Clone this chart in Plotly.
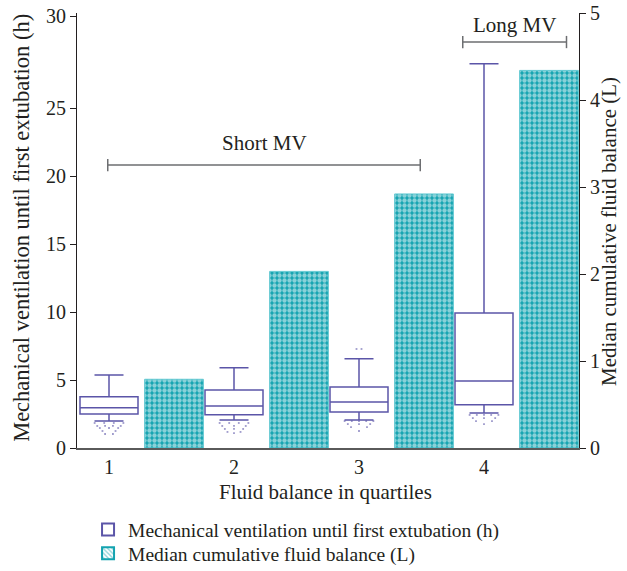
import numpy as np
import plotly.graph_objects as go

# ---------------- data ----------------
quartiles = [1, 2, 3, 4]
quartile_labels = ["1", "2", "3", "4"]

mv_lowerfence = [1.99, 2.06, 2.06, 2.57]
mv_q1 = [2.50, 2.45, 2.65, 3.18]
mv_median = [2.96, 3.09, 3.38, 4.93]
mv_q3 = [3.77, 4.26, 4.49, 9.93]
mv_upperfence = [5.37, 5.90, 6.57, 27.4]

mv_outliers_low = [
    [1.84, 1.84, 1.84, 1.84, 1.62, 1.62, 1.62, 1.62, 1.47, 1.47, 1.47, 1.25, 1.25, 1.03, 1.03],
    [1.84, 1.84, 1.84, 1.84, 1.62, 1.62, 1.62, 1.40, 1.40, 1.40, 1.18, 1.18, 1.10],
    [1.98, 1.98, 1.98, 1.98, 1.98, 1.76, 1.76, 1.76, 1.54, 1.54, 1.25],
    [2.43, 2.43, 2.43, 2.43, 2.43, 2.20, 2.20, 2.20, 1.98, 1.98, 1.76],
]
mv_outliers_high = [[], [], [7.28, 7.28], []]

fluid_balance = [0.79, 2.03, 2.92, 4.34]

left_ticks = [0, 5, 10, 15, 20, 25, 30]
right_ticks = [0, 1, 2, 3, 4, 5]

short_mv_span = [0.99, 3.49]
long_mv_span = [3.83, 4.66]

# ---------------- styling ----------------
PURPLE = "#5b55a8"
TEAL = "#13a3b0"
TEAL_EDGE = "#62c9d2"
GRAY = "#6d6e71"
TXT = "#231f20"
FONT = "Liberation Serif"

BREAK = 25.0
STRETCH = 92.0 / 68.0   # upper segment of the left axis (25-30) is drawn expanded


def disp(v):
    return v if v <= BREAK else BREAK + (v - BREAK) * STRETCH


BOX_W = 0.464
BAR_W = 0.47
BAR_SHIFT = 0.52

fig = go.Figure()

fig.add_trace(go.Box(
    x=quartiles,
    q1=[disp(v) for v in mv_q1],
    median=[disp(v) for v in mv_median],
    q3=[disp(v) for v in mv_q3],
    lowerfence=[disp(v) for v in mv_lowerfence],
    upperfence=[disp(v) for v in mv_upperfence],
    width=BOX_W,
    whiskerwidth=0.5,
    boxpoints=False,
    fillcolor="white",
    line=dict(color=PURPLE, width=1.5),
    name="Mechanical ventilation until first extubation (h)",
    legend="legend",
    hoverinfo="skip",
))

# outlier dots (spread under the whisker caps)
ox, oy = [], []
for q, vals, lw in zip(quartiles, mv_outliers_low, mv_lowerfence):
    rows = sorted(set(vals), reverse=True)
    nrows = len(rows)
    for r, v in enumerate(rows):
        n = vals.count(v)
        hw = 0.115 * (1 - r / (nrows + 0.5))
        offs = [0.0] if n == 1 else list(np.linspace(-hw, hw, n))
        for o in offs:
            ox.append(q + o)
            oy.append(disp(v))
for q, vals in zip(quartiles, mv_outliers_high):
    n = len(vals)
    offs = [0.0] if n == 1 else list(np.linspace(-0.02, 0.02, n)) if n else []
    for o, v in zip(offs, vals):
        ox.append(q + o)
        oy.append(disp(v))

fig.add_trace(go.Scatter(
    x=ox, y=oy, mode="markers",
    marker=dict(symbol="square", size=1.8, color="rgba(91,85,168,0.6)"),
    showlegend=False, hoverinfo="skip",
))

fig.add_trace(go.Bar(
    x=[q + BAR_SHIFT for q in quartiles],
    y=fluid_balance,
    width=BAR_W,
    yaxis="y2",
    marker=dict(
        color=TEAL,
        line=dict(color=TEAL_EDGE, width=1),
        pattern=dict(shape=".", fgcolor="white", bgcolor=TEAL, size=5, solidity=0.6),
    ),
    showlegend=False,
    hoverinfo="skip",
))

# legend entry for the bars (hatched swatch as in the reference)
fig.add_trace(go.Bar(
    x=[None], y=[None], yaxis="y2",
    name="Median cumulative fluid balance (L)",
    legend="legend2",
    marker=dict(
        color="white",
        line=dict(color=TEAL, width=1),
        pattern=dict(shape="\\", fgcolor=TEAL, bgcolor="white", size=4, solidity=0.4),
    ),
))

# brackets
def bracket(x0, x1, y, h=0.45):
    fig.add_shape(type="line", x0=x0, x1=x1, y0=y, y1=y, xref="x", yref="y",
                  line=dict(color=GRAY, width=1.5))
    for xx in (x0, x1):
        fig.add_shape(type="line", x0=xx, x1=xx, y0=y - h, y1=y + h, xref="x", yref="y",
                      line=dict(color=GRAY, width=1.5))


bracket(short_mv_span[0], short_mv_span[1], 20.8)
bracket(long_mv_span[0], long_mv_span[1], 29.85)

fig.add_annotation(x=sum(short_mv_span) / 2, y=22.4, xref="x", yref="y", text="Short MV",
                   showarrow=False, font=dict(family=FONT, size=21, color=TXT))
fig.add_annotation(x=sum(long_mv_span) / 2, y=31.1, xref="x", yref="y", text="Long MV",
                   showarrow=False, font=dict(family=FONT, size=21, color=TXT))

# axis titles
fig.add_annotation(x=-0.1096, y=0.506, xref="paper", yref="paper", textangle=-90,
                   xanchor="center", yanchor="middle",
                   text="Mechanical ventilation until first extubation (h)", showarrow=False,
                   font=dict(family=FONT, size=22.5, color=TXT))
fig.add_annotation(x=1.06, y=0.497, xref="paper", yref="paper", textangle=-90,
                   xanchor="center", yanchor="middle",
                   text="Median cumulative fluid balance (L)", showarrow=False,
                   font=dict(family=FONT, size=21, color=TXT))
fig.add_annotation(x=0.496, y=-0.101, xref="paper", yref="paper",
                   xanchor="center", yanchor="middle",
                   text="Fluid balance in quartiles", showarrow=False,
                   font=dict(family=FONT, size=21, color=TXT))

Y_TOP = 435 / 13.6

legend_style = dict(xanchor="left", yanchor="top",
                    font=dict(family=FONT, size=19.5, color=TXT),
                    bgcolor="rgba(0,0,0,0)", itemsizing="constant")

fig.update_layout(
    width=627, height=571,
    margin=dict(l=77, r=48, t=13, b=123, autoexpand=False),
    paper_bgcolor="white", plot_bgcolor="white",
    font=dict(family=FONT, size=20, color=TXT),
    showlegend=True,
    legend=dict(x=0.022, y=-0.143, **legend_style),
    legend2=dict(x=0.022, y=-0.198, **legend_style),
    xaxis=dict(
        range=[0.744, 4.76], tickvals=quartiles, ticktext=quartile_labels,
        showgrid=False, zeroline=False, showline=True, linecolor="#5a5a5a", linewidth=2,
        ticks="", tickfont=dict(size=20), automargin=False, ticklabeloverflow="allow",
    ),
    yaxis=dict(
        range=[0, Y_TOP], tickvals=[disp(t) for t in left_ticks],
        ticktext=[str(t) for t in left_ticks],
        showgrid=False, zeroline=False, showline=True, linecolor="#231f20", linewidth=1.2,
        ticks="outside", ticklen=6, tickcolor="#231f20", tickwidth=1.2, tickfont=dict(size=20),
        automargin=False, ticklabeloverflow="allow",
    ),
    yaxis2=dict(
        range=[0, 5], tickvals=right_ticks, ticktext=[str(t) for t in right_ticks],
        overlaying="y", side="right",
        showgrid=False, zeroline=False, showline=True, linecolor="#231f20", linewidth=1.2,
        ticks="outside", ticklen=6, tickcolor="#231f20", tickwidth=1.2, tickfont=dict(size=20),
        automargin=False, ticklabeloverflow="allow",
    ),
)

fig.write_html("out.html", config={"displayModeBar": False},
               post_script="document.body.style.margin='0';")
